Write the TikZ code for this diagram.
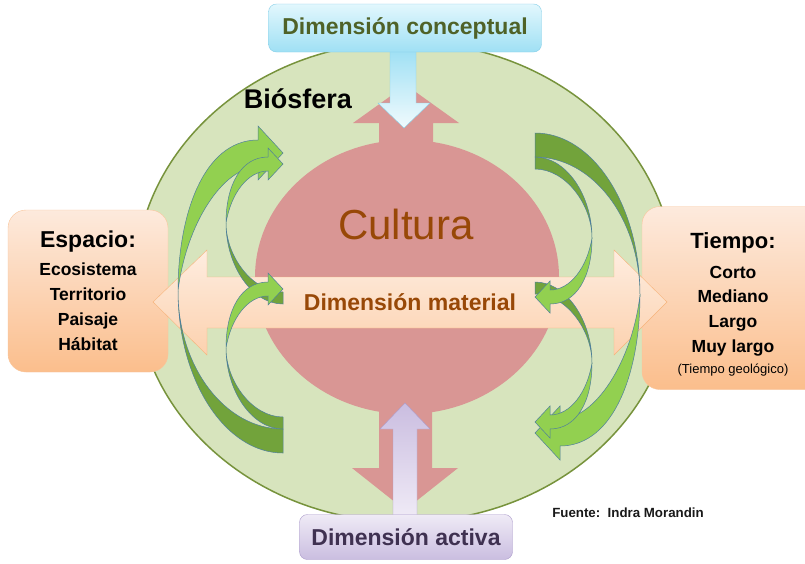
\documentclass[tikz,border=0pt]{standalone}
\usepackage{fontspec}
\setmainfont{Liberation Sans}

\definecolor{biofill}{HTML}{D7E4BD}
\definecolor{bioline}{HTML}{77933C}
\definecolor{cultfill}{HTML}{D99694}
\definecolor{cultext}{HTML}{984807}
\definecolor{darkgreen}{HTML}{72A33B}
\definecolor{lightgreen}{HTML}{92D050}
\definecolor{greenline}{HTML}{4F7F9C}
\definecolor{sidetop}{HTML}{FDEADD}
\definecolor{sidebot}{HTML}{FBBE8C}
\definecolor{sideline}{HTML}{F9C59A}
\definecolor{mattop}{HTML}{FEEDE0}
\definecolor{matbot}{HTML}{FCD1AE}
\definecolor{matline}{HTML}{F7B37A}
\definecolor{contop}{HTML}{E2F7FD}
\definecolor{conbot}{HTML}{9FE0F4}
\definecolor{conline}{HTML}{86CFE8}
\definecolor{context}{HTML}{4F6228}
\definecolor{acttop}{HTML}{EFEAF6}
\definecolor{actbot}{HTML}{CABDE0}
\definecolor{actline}{HTML}{AC9CCB}
\definecolor{actext}{HTML}{3F3151}

\begin{document}
\begin{tikzpicture}[x=1pt, y=-1pt,
    sidebox/.style={draw=sideline, rounded corners=18, top color=sidetop, bottom color=sidebot,
      align=center, inner sep=0pt, font=\bfseries\fontsize{17.5}{25}\selectfont},
    dimbox/.style={rounded corners=8, inner sep=0pt, font=\bfseries\fontsize{23}{28}\selectfont},
    back/.style={fill=darkgreen, draw=greenline, line width=0.5},
    front/.style={fill=lightgreen, draw=greenline, line width=0.5}]

  \clip (0,0) rectangle (805,563);
  \fill[white] (0,0) rectangle (805,563);

  % biosfera
  \draw[fill=biofill, draw=bioline, line width=1.5] (405,282) ellipse [x radius=270, y radius=240];
  \node[font=\bfseries\fontsize{27}{30}\selectfont] (biosfera) at (298,99) {Biósfera};

  % espacio / tiempo
  \node[sidebox, minimum width=160, minimum height=162] (espacio) at (88,291)
    {{\fontsize{23}{28}\selectfont Espacio:}\\[3pt] Ecosistema\\ Territorio\\ Paisaje\\ Hábitat};
  \node[sidebox, minimum width=182, minimum height=183] (tiempo) at (733,298)
    {\rule{0pt}{28pt}{\fontsize{22}{26}\selectfont Tiempo:}\\[5pt] Corto\\[-1pt] Mediano\\ Largo\\ Muy largo\\[-4pt]
     {\mdseries\fontsize{13}{16}\selectfont (Tiempo geológico)}};

  % cultura
  \fill[cultfill] (407,277) ellipse [x radius=152, y radius=137];
  \fill[cultfill] (379,150) -- (379,123) -- (353,123) -- (406,85) -- (459,123) -- (433,123) -- (433,150) -- cycle;
  \fill[cultfill] (379,400) -- (379,468) -- (352,468) -- (405,510) -- (458,468) -- (432,468) -- (432,400) -- cycle;
  \node[font=\fontsize{42}{48}\selectfont, text=cultext] (cultura) at (406,224) {Cultura};

  % dimensiones
  \draw[draw=conline, top color=conbot, bottom color=white!85!conbot]
    (390,50) -- (390,103) -- (378,103) -- (404,128) -- (430,103) -- (416,103) -- (416,50) -- cycle;
  \draw[draw=actline, top color=actbot, bottom color=acttop]
    (393,516) -- (393,429) -- (380,429) -- (405,403) -- (430,429) -- (417,429) -- (417,516) -- cycle;
  \node[dimbox, draw=conline, top color=contop, bottom color=conbot, text=context,
    minimum width=273, minimum height=48] (conceptual) at (405,28) {Dimensión conceptual};
  \node[dimbox, draw=actline, top color=acttop, bottom color=actbot, text=actext,
    minimum width=213, minimum height=45] (activa) at (406,537) {Dimensión activa};

  \draw[draw=matline, top color=mattop, bottom color=matbot]
    (153,302) -- (207,250) -- (207,277) -- (614,277) -- (614,250) -- (667,302)
    -- (614,355) -- (614,328) -- (207,328) -- (207,355) -- cycle;
  \node[font=\bfseries\fontsize{23}{28}\selectfont, text=cultext] (material) at (410,302) {Dimensión material};

  % flechas curvas
  \foreach \turn in {0,180}
  {
    \begin{scope}[rotate around={\turn:(409,293)}]
      \draw[back] (535,133) .. controls (593,133) and (640,206) .. (640,295)
        .. controls (640,219) and (593,157) .. (535,157) -- cycle;
      \draw[front] (640,295) .. controls (640,370) and (615,446) .. (560,446) -- (560,460) -- (535,433)
        -- (560,406) -- (560,419) .. controls (595,419) and (632,362) .. (640,295) -- cycle;
      \foreach \dy in {125,0}
      {
        \begin{scope}[shift={(0,\dy)}]
          \draw[back] (535,157) .. controls (566,157) and (592,195) .. (592,238)
            .. controls (592,205) and (566,169) .. (535,169) -- cycle;
          \draw[front] (592,238) .. controls (592,276) and (577,304) .. (550,304) -- (550,313) -- (535,297)
            -- (550,281) -- (550,290) .. controls (570,290) and (587,268) .. (592,238) -- cycle;
        \end{scope}
      }
    \end{scope}
  }

  \node[font=\bfseries\fontsize{13.3}{16}\selectfont, text=black!90] (fuente) at (628,513) {Fuente:\ \ Indra Morandin};
\end{tikzpicture}
\end{document}
